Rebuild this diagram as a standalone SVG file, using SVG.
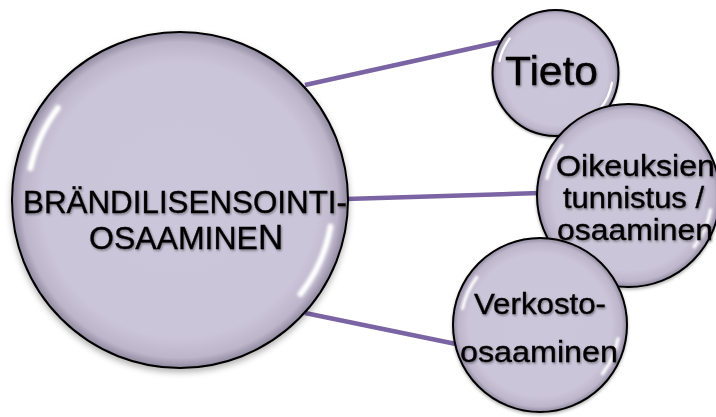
<svg xmlns="http://www.w3.org/2000/svg" xmlns:xlink="http://www.w3.org/1999/xlink" width="716" height="417" viewBox="0 0 716 417">
<style>
.conn{stroke:#7b64a3;stroke-width:4.5;fill:none}
.body{fill:url(#fillGrad);stroke:#000;stroke-width:2}
.gloss{fill:none;stroke:#fff;stroke-linecap:round;stroke-width:3.5}
.lbl{font-family:"Liberation Sans",Arial,sans-serif;fill:#000;stroke:#000;stroke-width:0.35;filter:url(#txtShadow)}
</style>
<defs>
<radialGradient id="fillGrad" cx="0.5" cy="0.5" r="0.5">
 <stop offset="0" stop-color="#ccc6da"/>
 <stop offset="0.82" stop-color="#cbc5d9"/>
 <stop offset="0.94" stop-color="#bdb6cb"/>
 <stop offset="1" stop-color="#8f889e"/>
</radialGradient>
<filter id="blur" x="-50%" y="-50%" width="200%" height="200%"><feGaussianBlur stdDeviation="1.1"/></filter>
<filter id="shadow" x="-10%" y="-10%" width="120%" height="125%"><feDropShadow dx="0" dy="2" stdDeviation="2" flood-color="#000" flood-opacity="0.3"/></filter>
<filter id="txtShadow" x="-10%" y="-30%" width="120%" height="170%"><feDropShadow dx="1" dy="1.5" stdDeviation="1.2" flood-color="#000" flood-opacity="0.4"/></filter>
<g id="bubble">
 <circle r="100" class="body" vector-effect="non-scaling-stroke" filter="url(#shadow)"/>
 <path class="gloss" d="M -72.7 -54.8 A 91 91 0 0 0 -89 -18.9" filter="url(#blur)"/>
 <path class="gloss" d="M 89.6 15.8 A 91 91 0 0 1 71.7 56" filter="url(#blur)"/>
</g>
</defs>
<rect width="716" height="417" fill="#fff"/>
<g id="connectors">
 <line class="conn" x1="305" y1="85" x2="500" y2="42"/>
 <line class="conn" x1="346" y1="199" x2="540" y2="193"/>
 <line class="conn" x1="305" y1="313" x2="456" y2="344"/>
</g>
<g id="node-brandi">
 <use xlink:href="#bubble" transform="translate(180 200) scale(1.68)"/>
 <text class="lbl" font-size="32" x="23" y="213" textLength="324" lengthAdjust="spacingAndGlyphs">BRÄNDILISENSOINTI-</text>
 <text class="lbl" font-size="32" x="89" y="249">OSAAMINE<tspan font-size="35">N</tspan></text>
</g>
<g id="node-tieto">
 <use xlink:href="#bubble" transform="translate(555.5 73) scale(0.63)"/>
 <text class="lbl" font-size="41" x="505" y="85" textLength="93" lengthAdjust="spacingAndGlyphs">Tieto</text>
</g>
<g id="node-oikeuksien">
 <use xlink:href="#bubble" transform="translate(628.5 195.5) scale(0.915)"/>
 <text class="lbl" font-size="30" x="556" y="176" textLength="159" lengthAdjust="spacingAndGlyphs">Oikeuksien</text>
 <text class="lbl" font-size="30" x="563" y="208" textLength="141" lengthAdjust="spacingAndGlyphs">tunnistus /</text>
 <text class="lbl" font-size="30" x="557" y="240" textLength="156" lengthAdjust="spacingAndGlyphs">osaaminen</text>
</g>
<g id="node-verkosto">
 <use xlink:href="#bubble" transform="translate(540 325) scale(0.87)"/>
 <text class="lbl" font-size="30" x="474" y="314" textLength="132" lengthAdjust="spacingAndGlyphs">Verkosto-</text>
 <text class="lbl" font-size="30" x="460" y="362" textLength="158" lengthAdjust="spacingAndGlyphs">osaaminen</text>
</g>
</svg>
